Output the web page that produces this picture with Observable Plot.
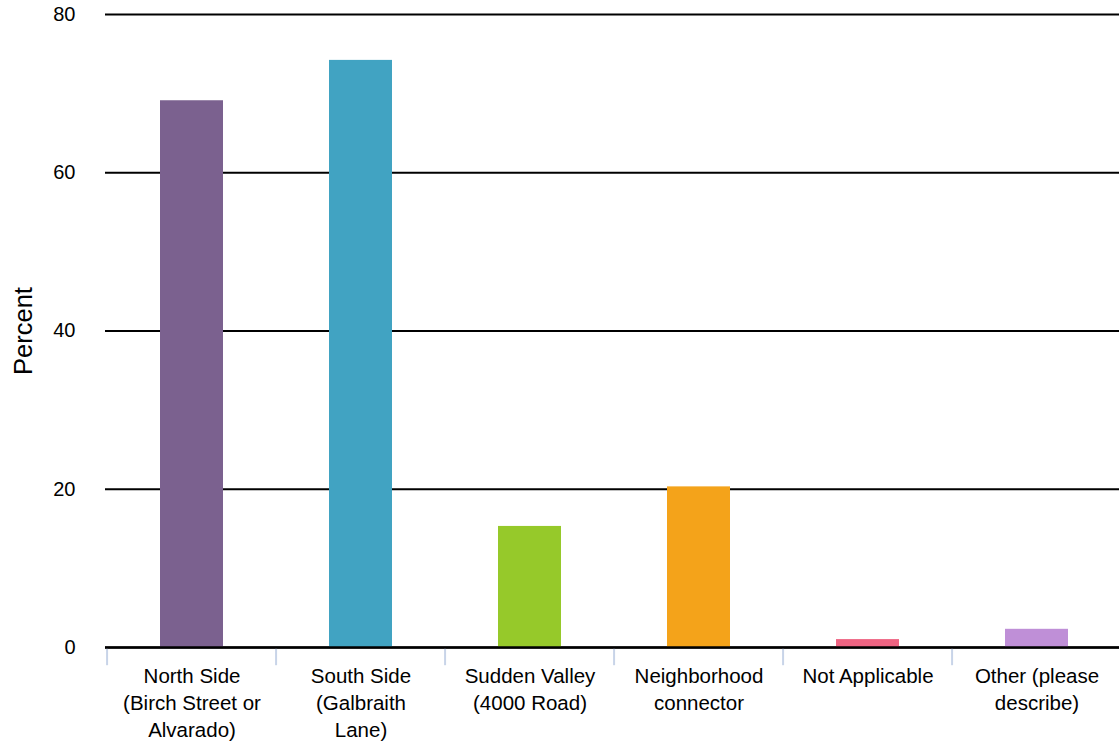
<!DOCTYPE html>
<html>
<head>
<meta charset="utf-8">
<script src="https://cdn.jsdelivr.net/npm/d3@7"></script>
<script src="https://cdn.jsdelivr.net/npm/@observablehq/plot@0.6"></script>
<style>
  html, body { margin: 0; padding: 0; background: #fff; }
  #chart { width: 1119px; height: 744px; }
</style>
</head>
<body>
<div id="chart"></div>
<script>
const categories = [
  "North Side (Birch Street or Alvarado)",
  "South Side (Galbraith Lane)",
  "Sudden Valley (4000 Road)",
  "Neighborhood connector",
  "Not Applicable",
  "Other (please describe)"
];
const tickLabels = [
  "North Side\n(Birch Street or\nAlvarado)",
  "South Side\n(Galbraith\nLane)",
  "Sudden Valley\n(4000 Road)",
  "Neighborhood\nconnector",
  "Not Applicable",
  "Other (please\ndescribe)"
];
const percents = [69.1, 74.2, 15.3, 20.3, 1.0, 2.3];
const colors = ["#7b618f", "#41a3c2", "#96c92a", "#f4a31a", "#ee6482", "#bf8fd7"];
const yTicks = [0, 20, 40, 60, 80];
const yLabel = "Percent";

const data = categories.map((c, i) => ({category: c, value: percents[i], color: colors[i]}));
const labelOf = new Map(categories.map((c, i) => [c, tickLabels[i]]));

const width = 1119, height = 744;
const marginLeft = 105;
const xRange = [105, 1124];
const step = (xRange[1] - xRange[0]) / categories.length;

const chart = Plot.plot({
  width, height,
  marginLeft, marginRight: 0,
  marginTop: 14,
  marginBottom: 97,
  style: {fontFamily: "'Liberation Sans', Arial, Helvetica, sans-serif", fontSize: "20px", color: "#000", background: "#fff"},
  x: {domain: categories, range: xRange, paddingInner: 0.627, paddingOuter: 0.3135},
  y: {domain: [0, 80]},
  marks: [
    Plot.ruleY(yTicks, {stroke: "#000", strokeWidth: 2}),
    Plot.barY(data, {x: "category", y: "value", fill: "color"}),
    Plot.ruleX(categories, {x: d => d, dx: -step / 2, y1: 0, y2: -2.3, stroke: "#c8d4e8", strokeWidth: 2}),
    Plot.ruleY([0], {stroke: "#000", strokeWidth: 2.5}),
    Plot.axisX({
      tickSize: 0, tickPadding: 16, fontSize: 20.5, lineHeight: 1.33,
      tickFormat: d => labelOf.get(d), label: null
    }),
    Plot.axisY({
      ticks: yTicks, tickSize: 0, tickPadding: 30, fontSize: 20, label: null
    }),
    Plot.text([yLabel], {frameAnchor: "left", textAnchor: "middle", rotate: -90, dx: -82, fontSize: 25.5, text: d => d})
  ]
});
document.getElementById("chart").appendChild(chart);
</script>
</body>
</html>
